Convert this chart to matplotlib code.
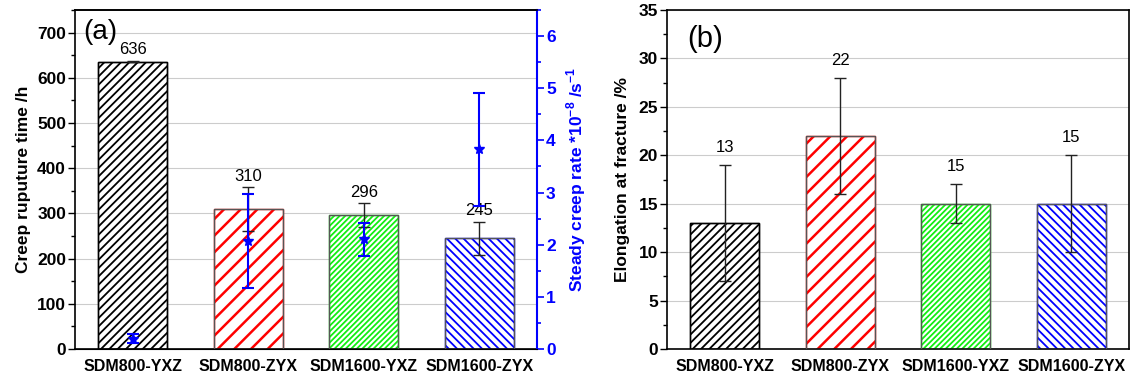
import matplotlib
matplotlib.use('Agg')
import matplotlib.pyplot as plt
from matplotlib.ticker import MultipleLocator
import numpy as np

plt.rcParams['font.family'] = ['Liberation Sans', 'DejaVu Sans']
plt.rcParams['mathtext.fontset'] = 'custom'
plt.rcParams['mathtext.rm'] = 'Liberation Sans'
plt.rcParams['mathtext.bf'] = 'Liberation Sans:bold'
plt.rcParams['hatch.linewidth'] = 1.3

# sample names
categories = ['SDM800-YXZ', 'SDM800-ZYX', 'SDM1600-YXZ', 'SDM1600-ZYX']

# creep rupture time (h) and scatter
rupture_time = [636, 310, 296, 245]
rupture_err = [2, 48, 26, 37]

# steady creep rate (*1e-8 /s)
creep_rate = [0.2, 2.07, 2.1, 3.83]
creep_rate_err = [0.08, 0.9, 0.32, 1.08]

# elongation at fracture (%)
elongation = [13, 22, 15, 15]
elongation_err = [6, 6, 2, 5]

hatch_colors = ['black', 'red', '#11ee11', 'blue']
hatches = ['////', '//', '//////', '\\\\\\\\']

x = np.arange(1, len(categories) + 1)

fig = plt.figure(figsize=(11.44, 3.85), dpi=100)
ax1 = fig.add_axes([0.0656, 0.0935, 0.4038, 0.8805])
ax3 = fig.add_axes([0.583, 0.0935, 0.4038, 0.8805])


def draw_bars(ax, values, errs, offset):
    bars = ax.bar(x, values, width=0.6, color='white', edgecolor='#444444',
                  linewidth=1.0, zorder=2)
    for b, h, c in zip(bars, hatches, hatch_colors):
        b.set_hatch(h)
        b.set_edgecolor(c)
        if hasattr(b, 'set_hatch_linewidth'):
            b.set_hatch_linewidth(1.8 if c == 'red' else 1.3)
    # outline in gray over the hatching
    ax.bar(x, values, width=0.6, color='none',
           edgecolor=['black', '#555555', '#555555', '#555555'],
           linewidth=1.0, zorder=3)
    ax.errorbar(x, values, yerr=errs, fmt='none', ecolor='#222222',
                elinewidth=1.0, capsize=4, capthick=1.0, zorder=4)
    for xi, v, e in zip(x, values, errs):
        ax.text(xi, v + e + offset, str(v), ha='center', va='center',
                fontsize=12, zorder=5)


def style_axes(ax):
    ax.set_xlim(0.5, 4.5)
    ax.set_xticks(x)
    ax.set_xticklabels(categories, fontsize=11.5, fontweight='bold')
    ax.tick_params(axis='x', length=0, pad=7)
    ax.tick_params(axis='y', which='major', direction='out', length=5,
                   width=1, labelsize=12.5, pad=1.5)
    ax.tick_params(axis='y', which='minor', direction='out', length=3, width=1)
    for lbl in ax.get_yticklabels():
        lbl.set_fontweight('bold')
    ax.grid(axis='y', color='#cccccc', linewidth=0.8, zorder=0)
    ax.set_axisbelow(True)
    for s in ax.spines.values():
        s.set_linewidth(1.2)


# (a) rupture time with creep rate on a second axis
draw_bars(ax1, rupture_time, rupture_err, 24)
ax1.set_ylim(0, 750)
ax1.yaxis.set_major_locator(MultipleLocator(100))
ax1.yaxis.set_minor_locator(MultipleLocator(50))
style_axes(ax1)
ax1.set_ylabel('Creep ruputure time /h', fontsize=12.5, fontweight='bold',
               labelpad=4)
ax1.text(0.018, 0.935, '(a)', transform=ax1.transAxes, fontsize=20,
         va='center', ha='left')

ax2 = ax1.twinx()
ax2.set_ylim(0, 6.5)
ax2.yaxis.set_major_locator(MultipleLocator(1))
ax2.yaxis.set_minor_locator(MultipleLocator(0.5))
ax2.errorbar(x, creep_rate, yerr=creep_rate_err, fmt='*', color='blue',
             markersize=7, ecolor='blue', elinewidth=1.5, capsize=4,
             capthick=1.5, zorder=6)
ax2.tick_params(axis='y', which='major', direction='out', length=5, width=1.2,
                colors='blue', labelsize=12.5, pad=1.5)
ax2.tick_params(axis='y', which='minor', direction='out', length=3, width=1.2,
                colors='blue')
for lbl in ax2.get_yticklabels():
    lbl.set_fontweight('bold')
ax2.spines['right'].set_color('blue')
ax2.spines['right'].set_linewidth(1.5)
ax2.spines['left'].set_visible(False)
ax2.spines['top'].set_linewidth(1.2)
ax2.set_ylabel(r'Steady creep rate *10$^{\mathbf{-8}}$ /s$^{\mathbf{-1}}$',
               color='blue', fontsize=12.5, fontweight='bold', labelpad=6)

# (b) elongation
draw_bars(ax3, elongation, elongation_err, 1.8)
ax3.set_ylim(0, 35)
ax3.yaxis.set_major_locator(MultipleLocator(5))
ax3.yaxis.set_minor_locator(MultipleLocator(2.5))
style_axes(ax3)
ax3.set_ylabel('Elongation at fracture /%', fontsize=12.5, fontweight='bold',
               labelpad=6)
ax3.text(0.045, 0.914, '(b)', transform=ax3.transAxes, fontsize=21,
         va='center', ha='left')

fig.savefig('out.png', dpi=100)
